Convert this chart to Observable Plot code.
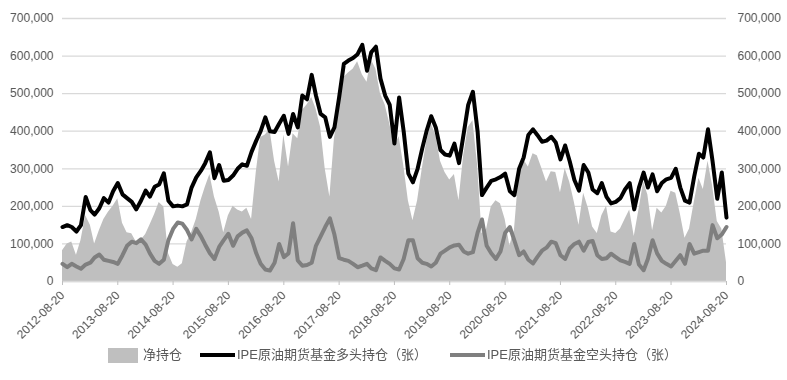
<!DOCTYPE html>
<html>
<head>
<meta charset="utf-8">
<script src="https://cdn.jsdelivr.net/npm/d3@7"></script>
<script src="https://cdn.jsdelivr.net/npm/@observablehq/plot@0.6"></script>
<style>
  body { margin: 0; background: #fff; font-family: "Liberation Sans", Arial, "Noto Sans CJK SC", sans-serif; }
  #wrap { width: 787px; filter: grayscale(100%); }
  #legend { position: relative; width: 787px; height: 38px; color: #595959; font-family: "Liberation Sans", Arial, "Noto Sans CJK SC", sans-serif; font-size: 13px; }
  #legend .sw { position: absolute; }
  #legend .tx { position: absolute; top: 4px; line-height: 18px; white-space: nowrap; }
</style>
</head>
<body>
<div id="wrap"></div>
<script>
// Month sampling (values read around the 20th of each month)
const months = [
  "2012-08","2012-09","2012-10","2012-11","2012-12",
  "2013-01","2013-02","2013-03","2013-04","2013-05","2013-06","2013-07","2013-08","2013-09","2013-10","2013-11","2013-12",
  "2014-01","2014-02","2014-03","2014-04","2014-05","2014-06","2014-07","2014-08","2014-09","2014-10","2014-11","2014-12",
  "2015-01","2015-02","2015-03","2015-04","2015-05","2015-06","2015-07","2015-08","2015-09","2015-10","2015-11","2015-12",
  "2016-01","2016-02","2016-03","2016-04","2016-05","2016-06","2016-07","2016-08","2016-09","2016-10","2016-11","2016-12",
  "2017-01","2017-02","2017-03","2017-04","2017-05","2017-06","2017-07","2017-08","2017-09","2017-10","2017-11","2017-12",
  "2018-01","2018-02","2018-03","2018-04","2018-05","2018-06","2018-07","2018-08","2018-09","2018-10","2018-11","2018-12",
  "2019-01","2019-02","2019-03","2019-04","2019-05","2019-06","2019-07","2019-08","2019-09","2019-10","2019-11","2019-12",
  "2020-01","2020-02","2020-03","2020-04","2020-05","2020-06","2020-07","2020-08","2020-09","2020-10","2020-11","2020-12",
  "2021-01","2021-02","2021-03","2021-04","2021-05","2021-06","2021-07","2021-08","2021-09","2021-10","2021-11","2021-12",
  "2022-01","2022-02","2022-03","2022-04","2022-05","2022-06","2022-07","2022-08","2022-09","2022-10","2022-11","2022-12",
  "2023-01","2023-02","2023-03","2023-04","2023-05","2023-06","2023-07","2023-08","2023-09","2023-10","2023-11","2023-12",
  "2024-01","2024-02","2024-03","2024-04","2024-05","2024-06","2024-07","2024-08"
];

// 净持仓 (thousand contracts)
const netK = [
  82,100,105,70,109,
  175,150,100,135,165,185,200,220,155,130,127,105,
  110,125,150,178,210,198,75,45,38,47,105,130,
  165,215,250,285,225,185,130,175,200,190,185,195,
  165,290,383,390,405,320,265,390,305,393,380,455,
  470,490,460,410,300,225,380,460,543,555,565,585,
  550,530,590,565,500,470,420,360,385,310,215,162,
  215,300,370,420,390,320,290,270,285,215,335,410,
  428,310,127,140,198,215,207,165,95,136,287,325,
  305,340,335,300,265,292,290,236,300,265,210,150,
  235,195,145,128,175,200,132,128,140,165,190,120,
  190,265,230,135,195,182,200,240,235,180,115,140,
  210,275,245,320,255,160,140,50
];

// IPE原油期货基金多头持仓（张）(thousand contracts)
const longK = [
  145,150,145,133,150,
  225,190,178,195,222,210,240,262,232,222,212,192,
  215,242,226,252,258,288,215,200,202,200,205,250,
  277,295,315,344,275,310,268,270,282,300,312,308,
  345,375,400,437,400,398,420,441,393,446,410,495,
  485,550,495,446,437,385,410,490,579,588,595,605,
  630,561,610,625,540,495,470,367,490,400,287,264,
  300,355,400,440,410,350,338,335,367,315,393,470,
  505,400,230,250,268,272,278,287,240,230,300,330,
  390,405,390,372,375,385,370,325,362,320,270,242,
  310,290,245,235,262,225,208,212,222,245,262,192,
  250,290,250,285,240,262,272,276,300,250,215,210,
  280,340,330,405,320,220,290,170
];

// IPE原油期货基金空头持仓（张）(thousand contracts)
const shortK = [
  47,38,47,40,34,
  45,50,64,72,58,55,52,47,70,95,106,102,
  112,98,75,55,47,58,110,140,157,154,137,112,
  140,120,98,75,60,92,110,127,95,120,130,136,
  115,75,47,32,29,50,100,65,75,155,56,42,
  44,50,95,120,145,168,125,62,58,55,47,38,
  42,47,35,30,64,55,47,35,32,60,110,110,
  62,50,47,40,50,74,82,91,96,98,80,74,
  78,130,165,95,75,60,80,130,145,109,70,80,
  58,48,65,82,90,106,102,70,60,88,100,106,
  82,105,108,70,60,62,74,65,56,52,47,100,
  45,30,60,110,75,55,47,40,55,70,47,100,
  74,78,82,82,150,115,125,145
];

const xTickLabels = ["2012-08-20","2013-08-20","2014-08-20","2015-08-20","2016-08-20","2017-08-20",
  "2018-08-20","2019-08-20","2020-08-20","2021-08-20","2022-08-20","2023-08-20","2024-08-20"];
const yTicks = [0,100000,200000,300000,400000,500000,600000,700000];

const data = months.map((m, i) => ({
  date: new Date(m + "-20"),
  net: netK[i] * 1000,
  long: longK[i] * 1000,
  short: shortK[i] * 1000
}));
const xTicks = xTickLabels.map(s => new Date(s));
const fmtDate = d3.utcFormat("%Y-%m-%d");

const chart = Plot.plot({
  width: 787,
  height: 342,
  marginTop: 18,
  marginBottom: 61,
  marginLeft: 62,
  marginRight: 61,
  style: { fontFamily: "'Liberation Sans', Arial, sans-serif", fontSize: "12px", color: "#595959", background: "#fff" },
  x: { type: "utc", domain: [xTicks[0], xTicks[xTicks.length - 1]] },
  y: { domain: [0, 700000] },
  marks: [
    Plot.gridY(yTicks, { stroke: "#d9d9d9", strokeOpacity: 1, strokeWidth: 1.3 }),
    Plot.areaY(data, { x: "date", y: "net", fill: "#bfbfbf" }),
    Plot.line(data, { x: "date", y: "short", stroke: "#7f7f7f", strokeWidth: 4 }),
    Plot.line(data, { x: "date", y: "long", stroke: "#000", strokeWidth: 4 }),
    Plot.ruleY([0], { stroke: "#d9d9d9", strokeWidth: 1.3 }),
    Plot.axisY(yTicks, { anchor: "left", tickSize: 0, tickPadding: 9, tickFormat: d3.format(","), label: null }),
    Plot.axisY(yTicks, { anchor: "right", tickSize: 0, tickPadding: 11, tickFormat: d3.format(","), label: null }),
    Plot.axisX(xTicks, { tickRotate: -45, tickSize: 4, stroke: "#bfbfbf", tickFormat: fmtDate, label: null })
  ]
});
document.getElementById("wrap").appendChild(chart);

const legendItems = [
  { label: "净持仓", kind: "rect", color: "#bfbfbf", x: 108 },
  { label: "IPE原油期货基金多头持仓（张）", kind: "line", color: "#000", x: 200 },
  { label: "IPE原油期货基金空头持仓（张）", kind: "line", color: "#7f7f7f", x: 450 }
];
const legend = document.createElement("div");
legend.id = "legend";
legendItems.forEach(it => {
  const sw = document.createElement("div");
  sw.className = "sw";
  sw.style.left = it.x + "px";
  sw.style.background = it.color;
  if (it.kind === "rect") { sw.style.top = "6px"; sw.style.width = "30px"; sw.style.height = "15px"; }
  else { sw.style.top = "11px"; sw.style.width = "35px"; sw.style.height = "4px"; }
  legend.appendChild(sw);
  const tx = document.createElement("div");
  tx.className = "tx";
  tx.style.left = (it.x + (it.kind === "rect" ? 35 : 37)) + "px";
  tx.textContent = it.label;
  legend.appendChild(tx);
});
document.getElementById("wrap").appendChild(legend);
</script>
</body>
</html>
